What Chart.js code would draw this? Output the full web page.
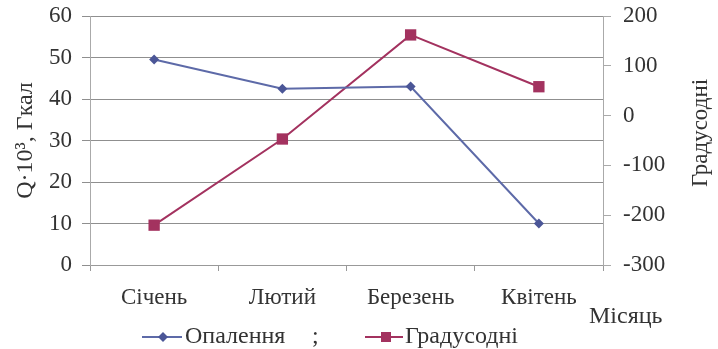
<!DOCTYPE html>
<html>
<head>
<meta charset="utf-8">
<script src="https://cdn.jsdelivr.net/npm/chart.js@4.4.1/dist/chart.umd.min.js"></script>
<style>
  html, body { margin: 0; padding: 0; background: #fff; }
  #wrap { width: 718px; height: 349px; }
</style>
</head>
<body>
<div id="wrap"><canvas id="chart" width="718" height="349"></canvas></div>
<script>
// дані
const months = ['Січень', 'Лютий', 'Березень', 'Квітень'];
const heating = [49.5, 42.5, 43, 10];       // Q·10³, Гкал
const degreeDays = [-220, -47, 162, 58];    // градусодні
const leftTicks = [0, 10, 20, 30, 40, 50, 60];
const rightTicks = [-300, -200, -100, 0, 100, 200];

const FONT = 'Liberation Serif';
const TXT = '#333';
const BLUE = '#5d6aa8';
const BLUE_PT = '#4b5697';
const RED = '#a3325f';

// легенда з лінією і маркером, підпис "Місяць" і назва правої осі
const extras = {
  id: 'extras',
  afterDraw(chart) {
    const ctx = chart.ctx;
    ctx.save();
    ctx.fillStyle = TXT;
    ctx.textBaseline = 'middle';

    // права вісь, текст знизу вгору
    ctx.save();
    ctx.translate(701, 133);
    ctx.rotate(-Math.PI / 2);
    ctx.textAlign = 'center';
    ctx.font = '23px "' + FONT + '"';
    ctx.fillText('Градусодні', 0, 0);
    ctx.restore();

    ctx.font = '24px "' + FONT + '"';
    ctx.fillText('Місяць', 589, 317);

    const ly = 337;
    // Опалення
    ctx.strokeStyle = BLUE; ctx.lineWidth = 2;
    ctx.beginPath(); ctx.moveTo(142, ly); ctx.lineTo(182, ly); ctx.stroke();
    ctx.fillStyle = BLUE_PT;
    ctx.beginPath();
    ctx.moveTo(163, ly - 5); ctx.lineTo(168, ly); ctx.lineTo(163, ly + 5); ctx.lineTo(158, ly);
    ctx.closePath(); ctx.fill();
    ctx.fillStyle = TXT;
    ctx.fillText('Опалення', 185, ly);
    ctx.fillText(';', 312, ly);
    // Градусодні
    ctx.strokeStyle = RED;
    ctx.beginPath(); ctx.moveTo(365, ly); ctx.lineTo(403, ly); ctx.stroke();
    ctx.fillStyle = RED;
    ctx.fillRect(381, ly - 5, 10, 10);
    ctx.fillStyle = TXT;
    ctx.fillText('Градусодні', 405, ly);
    ctx.restore();
  }
};

new Chart(document.getElementById('chart'), {
  type: 'line',
  data: {
    labels: months,
    datasets: [{
      label: 'Опалення',
      data: heating,
      yAxisID: 'y',
      borderColor: BLUE,
      backgroundColor: BLUE_PT,
      borderWidth: 2,
      pointStyle: 'rectRot',
      pointRadius: 5,
      pointBorderWidth: 0,
      tension: 0
    }, {
      label: 'Градусодні',
      data: degreeDays,
      yAxisID: 'y1',
      borderColor: RED,
      backgroundColor: RED,
      borderWidth: 2,
      pointStyle: 'rect',
      pointRadius: 8,
      pointBorderWidth: 0,
      tension: 0
    }]
  },
  options: {
    responsive: false,
    animation: false,
    events: [],
    layout: { padding: { top: 16, left: 0, right: 0, bottom: 0 } },
    plugins: { legend: { display: false }, tooltip: { enabled: false } },
    scales: {
      x: {
        offset: true,
        grid: { offset: true, drawOnChartArea: false, color: '#999', tickLength: 6 },
        border: { color: '#999' },
        ticks: { color: TXT, font: { family: FONT, size: 23 }, padding: 13, maxRotation: 0 },
        afterFit(s) { s.height = 84; }
      },
      y: {
        position: 'left',
        min: 0, max: 60,
        afterBuildTicks(s) { s.ticks = leftTicks.map(v => ({ value: v })); },
        grid: { color: '#8f8f8f', tickLength: 8 },
        border: { color: '#aaa' },
        ticks: { color: TXT, font: { family: FONT, size: 23 }, padding: 10 },
        title: {
          display: true, text: 'Q·10³, Гкал', color: TXT,
          font: { family: FONT, size: 24 }, padding: { top: 11 }
        },
        afterFit(s) { s.width = 90; s.paddingTop = 0; s.paddingBottom = 0; }
      },
      y1: {
        position: 'right',
        min: -300, max: 200,
        afterBuildTicks(s) { s.ticks = rightTicks.map(v => ({ value: v })); },
        grid: { drawOnChartArea: false, color: '#aaa', tickLength: 8 },
        border: { color: '#aaa' },
        ticks: { color: TXT, font: { family: FONT, size: 23 }, padding: 12 },
        afterFit(s) { s.width = 115; s.paddingTop = 0; s.paddingBottom = 0; }
      }
    }
  },
  plugins: [extras]
});
</script>
</body>
</html>
